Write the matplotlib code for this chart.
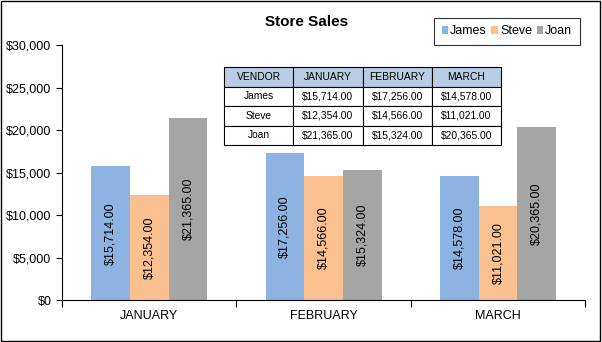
import matplotlib
matplotlib.use("Agg")
import matplotlib.pyplot as plt
import numpy as np
from matplotlib.patches import Rectangle

plt.rcParams['font.family'] = ['Liberation Sans', 'DejaVu Sans']

months = ["JANUARY", "FEBRUARY", "MARCH"]
vendors = ["James", "Steve", "Joan"]
james = [15714.00, 17256.00, 14578.00]
steve = [12354.00, 14566.00, 11021.00]
joan = [21365.00, 15324.00, 20365.00]
colors = ["#8DB3E2", "#FAC090", "#A5A5A5"]
yticks = [0, 5000, 10000, 15000, 20000, 25000, 30000]

fig = plt.figure(figsize=(6.02, 3.42), dpi=100)
fig.patches.append(Rectangle((0.002, 0.003), 0.995, 0.994, transform=fig.transFigure,
                             fill=False, edgecolor="black", linewidth=1.0))
ax = fig.add_axes([0.103, 0.1228, 0.869, 0.7456])

x = np.arange(len(months))
w = 0.222
series = [james, steve, joan]
for i, (name, vals, c) in enumerate(zip(vendors, series, colors)):
    pos = x + (i - 1) * w
    bars = ax.bar(pos, vals, width=w, color=c, label=name, zorder=2)
    for p, v in zip(pos, vals):
        ax.text(p, v / 2, f"${v:,.2f}", rotation=90, ha="center", va="center",
                fontsize=9, color="black", zorder=3)

ax.set_xlim(-0.5, 2.5)
ax.set_ylim(0, 30000)
ax.set_yticks(yticks)
ax.set_yticklabels([f"${t:,.0f}" for t in yticks], fontsize=9)
ax.set_xticks([-0.5, 0.5, 1.5, 2.5])
ax.set_xticklabels([])
ax.set_xticks(x, minor=True)
ax.set_xticklabels(months, minor=True, fontsize=9)
ax.tick_params(axis="x", which="minor", length=0, pad=7)
ax.tick_params(axis="x", which="major", length=5, direction="out")
ax.tick_params(axis="y", length=4, direction="out")
for s in ["top", "right"]:
    ax.spines[s].set_visible(False)

fig.text(0.51, 0.935, "Store Sales", ha="center", va="center", fontsize=11, fontweight="bold")

leg = ax.legend(loc="upper right", bbox_to_anchor=(0.990, 1.106), ncol=3, fontsize=9,
                frameon=True, fancybox=False, edgecolor="black", handlelength=0.5,
                handleheight=0.5, handletextpad=0.2, columnspacing=0.35, borderpad=0.6,
                borderaxespad=0)
leg.get_frame().set_linewidth(0.8)

# data table
tbl_rows = [["VENDOR"] + months] + [[v] + [f"${val:,.2f}" for val in s] for v, s in zip(vendors, series)]
table = ax.table(cellText=tbl_rows, bbox=[(224 - 62) / 523, (300 - 145) / 255, (501 - 224) / 523, (145 - 67) / 255],
                 cellLoc="center", zorder=5)
table.auto_set_font_size(False)
table.set_fontsize(7.4)
for (r, c), cell in table.get_celld().items():
    cell.set_linewidth(0.8)
    cell.set_edgecolor("black")
    cell.set_facecolor("#B8CCE4" if r == 0 else "white")

fig.savefig("out.png", dpi=100)
